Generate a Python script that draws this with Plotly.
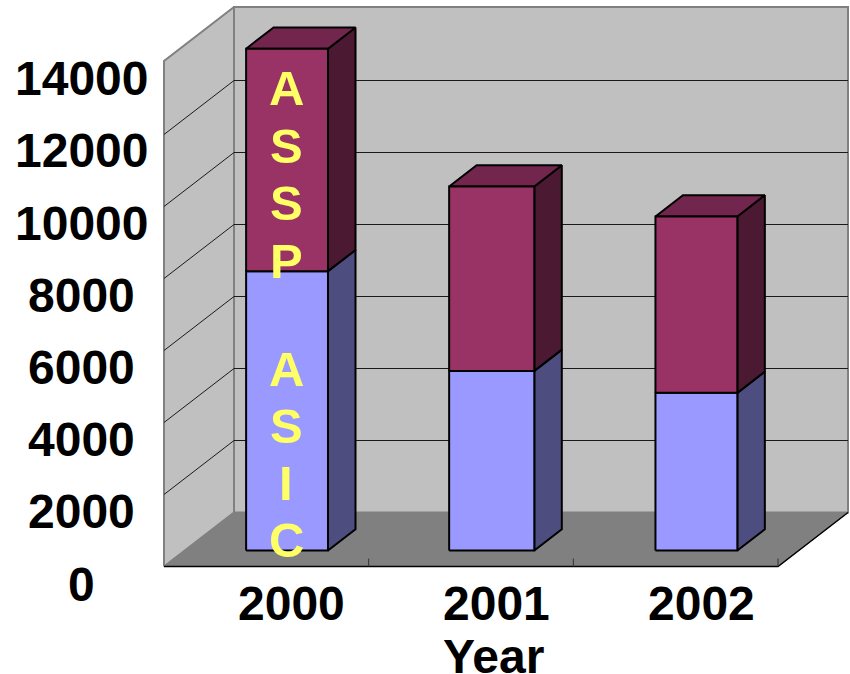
import plotly.graph_objects as go

# Chart data
years = ["2000", "2001", "2002"]
asic = [7760, 4990, 4380]
assp = [6180, 5120, 4900]
value_ticks = [0, 2000, 4000, 6000, 8000, 10000, 12000, 14000]
axis_title = "Year"
asic_letters = ["A", "S", "I", "C"]
assp_letters = ["A", "S", "S", "P"]

# Oblique projection: depth 0 is the front plane, depth 1 the back wall
DEPTH_X = 0.342     # category units per unit of depth
DEPTH_Y = 1500      # value units per unit of depth
WALL_TOP = 14040
BAR_HALF = [0.2, 0.208, 0.2]
BAR_D0, BAR_D1 = 0.296, 0.689
TICK_LEN = 220      # value units

WIDTH, HEIGHT = 850, 674
CAT_PX = 204.67
VAL_PX = 0.036
X0_PX, Y0_PX = 164, 566.5

def project(x, v, d):
    return x + d * DEPTH_X, v + d * DEPTH_Y

def px_to_x(px):
    return -0.5 + (px - X0_PX) / CAT_PX

def px_to_v(py):
    return (Y0_PX - py) / VAL_PX

fig = go.Figure()

def poly(points, fill=None, line="#000000", width=1.0, closed=True):
    pts = [project(*p) for p in points]
    if closed:
        pts.append(pts[0])
    fig.add_trace(go.Scatter(
        x=[p[0] for p in pts], y=[p[1] for p in pts],
        mode="lines", fill="toself" if fill else "none",
        fillcolor=fill, hoverinfo="skip", showlegend=False,
        line=dict(color=line, width=width, simplify=False),
    ))

XL, XR = -0.5, 2.5

# Walls and floor
poly([(XL, 0, 0), (XL, WALL_TOP, 0), (XL, WALL_TOP, 1), (XL, 0, 1)], "#C0C0C0", "#808080", 2)
poly([(XL, 0, 1), (XL, WALL_TOP, 1), (XR, WALL_TOP, 1), (XR, 0, 1)], "#C0C0C0", "#808080", 2)
poly([(XL, 0, 0), (XL, 0, 1), (XR, 0, 1), (XR, 0, 0)], "#808080", "#808080", 1)

# Gridlines run along the side wall and across the back wall
for v in value_ticks[1:-1]:
    poly([(XL, v, 0), (XL, v, 1), (XR, v, 1)], None, "#1a1a1a", 1, closed=False)

# Front and right edges of the floor with the category ticks
poly([(XL, 0, 0), (XR, 0, 0), (XR, 0, 1)], None, "#000000", 1.5, closed=False)
for i in range(1, len(years) + 1):
    poly([(i - 0.5, 0, 0), (i - 0.5, TICK_LEN, 0)], None, "#333333", 1, closed=False)

# Stacked boxes: side faces, top face, then the front faces
for i, (low, high) in enumerate(zip(asic, assp)):
    l, r = i - BAR_HALF[i], i + BAR_HALF[i]
    mid, top = low, low + high
    poly([(r, 0, BAR_D0), (r, mid, BAR_D0), (r, mid, BAR_D1), (r, 0, BAR_D1)], "#4D4D80", "#000000", 2)
    poly([(r, mid, BAR_D0), (r, top, BAR_D0), (r, top, BAR_D1), (r, mid, BAR_D1)], "#4C1933", "#000000", 2)
    poly([(l, top, BAR_D0), (l, top, BAR_D1), (r, top, BAR_D1), (r, top, BAR_D0)], "#73264D", "#000000", 2)
    poly([(l, 0, BAR_D0), (l, mid, BAR_D0), (r, mid, BAR_D0), (r, 0, BAR_D0)], "#9999FF", "#000000", 2)
    poly([(l, mid, BAR_D0), (l, top, BAR_D0), (r, top, BAR_D0), (r, mid, BAR_D0)], "#993366", "#000000", 2)

FONT = "Liberation Sans, Arial, sans-serif"

def label(text, px, py, size=48, color="#000000"):
    fig.add_annotation(
        x=px_to_x(px), y=px_to_v(py), text=f"<b>{text}</b>", showarrow=False,
        xanchor="center", yanchor="middle",
        font=dict(family=FONT, size=size, color=color),
    )

# Value labels sit just below their front-plane level, on a slightly wider pitch
for v in value_ticks:
    label(f"{v}", 81.5, 584 - v * 0.0361)

# Category labels and axis title
for i, y in enumerate(years):
    label(y, 291 + i * 205, 603)
label(axis_title, 493, 656)

# Series names spelled vertically over the first box
for n, ch in enumerate(assp_letters):
    label(ch, 286, 88 + n * 57.5, size=49, color="#FFFF66")
for n, ch in enumerate(asic_letters):
    label(ch, 286, 369 + n * 57, size=49, color="#FFFF66")

fig.update_layout(
    width=WIDTH, height=HEIGHT, autosize=False,
    margin=dict(l=0, r=0, t=0, b=0),
    paper_bgcolor="#FFFFFF", plot_bgcolor="#FFFFFF",
    xaxis=dict(visible=False, range=[px_to_x(0), px_to_x(WIDTH)], fixedrange=True),
    yaxis=dict(visible=False, range=[px_to_v(HEIGHT), px_to_v(0)], fixedrange=True),
    showlegend=False,
)

fig.write_html("out.html", config={"displayModeBar": False})
